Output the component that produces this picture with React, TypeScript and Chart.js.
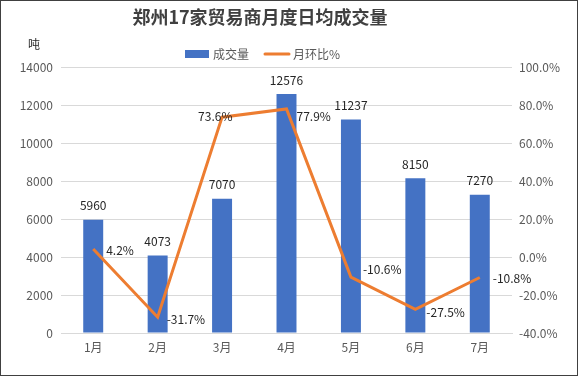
import React, { useEffect, useRef } from "react";
import { Chart, registerables } from "chart.js";

Chart.register(...registerables);

const title = "郑州17家贸易商月度日均成交量";
const unitLabel = "吨";
const categories = ["1月", "2月", "3月", "4月", "5月", "6月", "7月"];
const volumeName = "成交量";
const volumes = [5960, 4073, 7070, 12576, 11237, 8150, 7270];
const momName = "月环比%";
const momPct = [4.2, -31.7, 73.6, 77.9, -10.6, -27.5, -10.8];

// style: per-point label offsets for the line labels (px)
const lineLabelDx = [13, 9, -24, 10, 12, 11, 13];
const lineLabelDy = [1, 2, -1, 7, -8, 3, 1];

const FONT = "'Noto Sans CJK SC', 'Noto Sans', sans-serif";
const BLUE = "#4472C4";
const ORANGE = "#ED7D31";
const AXIS_TEXT = "#595959";

const decorPlugin = {
  id: "decor",
  beforeDraw(chart: any) {
    const ctx = chart.ctx;
    ctx.save();
    ctx.fillStyle = "#ffffff";
    ctx.fillRect(0, 0, chart.width, chart.height);
    ctx.restore();
  },
  afterDraw(chart: any) {
    const ctx = chart.ctx;
    ctx.save();
    // border
    ctx.strokeStyle = "#404040";
    ctx.lineWidth = 1;
    ctx.strokeRect(0.5, 0.5, 577, 375);

    // title
    ctx.fillStyle = "#404040";
    ctx.font = `bold 18px ${FONT}`;
    ctx.textAlign = "center";
    ctx.textBaseline = "middle";
    ctx.fillText(title, 260, 17);

    // unit
    ctx.fillStyle = "#262626";
    ctx.font = `12px ${FONT}`;
    ctx.fillText(unitLabel, 34, 44);

    // legend
    const ly = 54;
    ctx.fillStyle = BLUE;
    ctx.fillRect(185, ly - 4, 24, 8);
    ctx.fillStyle = AXIS_TEXT;
    ctx.textAlign = "left";
    ctx.font = `12px ${FONT}`;
    ctx.fillText(volumeName, 213, ly);
    ctx.strokeStyle = ORANGE;
    ctx.lineWidth = 3;
    ctx.lineCap = "round";
    ctx.beginPath();
    ctx.moveTo(265, ly);
    ctx.lineTo(289, ly);
    ctx.stroke();
    ctx.fillText(momName, 293, ly);

    // bar labels
    ctx.fillStyle = "#262626";
    ctx.font = `12px ${FONT}`;
    ctx.textAlign = "center";
    const barMeta = chart.getDatasetMeta(1);
    barMeta.data.forEach((el: any, i: number) => {
      ctx.fillText(String(volumes[i]), el.x, el.y - 14);
    });

    // line labels
    ctx.textAlign = "left";
    const lineMeta = chart.getDatasetMeta(0);
    lineMeta.data.forEach((el: any, i: number) => {
      ctx.fillText(momPct[i].toFixed(1) + "%", el.x + lineLabelDx[i], el.y + lineLabelDy[i]);
    });
    ctx.restore();
  },
};

export default function App() {
  const ref = useRef<HTMLCanvasElement | null>(null);
  useEffect(() => {
    if (!ref.current) return;
    const chart = new Chart(ref.current, {
      type: "bar",
      data: {
        labels: categories,
        datasets: [
          {
            type: "line",
            label: momName,
            data: momPct,
            yAxisID: "y1",
            borderColor: ORANGE,
            backgroundColor: ORANGE,
            borderWidth: 3,
            pointRadius: 0,
            tension: 0,
            order: 0,
          } as any,
          {
            type: "bar",
            label: volumeName,
            data: volumes,
            yAxisID: "y",
            backgroundColor: BLUE,
            barPercentage: 0.31,
            categoryPercentage: 1,
            order: 1,
          },
        ],
      },
      options: {
        responsive: false,
        animation: false,
        layout: { padding: { top: 67, left: 0, right: 0, bottom: 0 } },
        plugins: {
          legend: { display: false },
          title: { display: false },
          tooltip: { enabled: false },
        },
        scales: {
          x: {
            grid: { display: false, drawTicks: false },
            border: { display: true, color: "#d9d9d9" },
            ticks: { color: AXIS_TEXT, font: { family: FONT, size: 12 }, padding: 7 },
            afterFit(scale: any) {
              scale.height = 44;
            },
          },
          y: {
            position: "left",
            min: 0,
            max: 14000,
            grid: { color: "#d9d9d9", drawTicks: false },
            border: { display: false },
            ticks: {
              stepSize: 2000,
              color: AXIS_TEXT,
              font: { family: FONT, size: 12 },
              padding: 8,
              callback: (v: any) => String(v),
            },
            afterFit(scale: any) {
              scale.width = 61;
            },
          },
          y1: {
            position: "right",
            min: -40,
            max: 100,
            grid: { display: false, drawTicks: false },
            border: { display: false },
            ticks: {
              stepSize: 20,
              color: AXIS_TEXT,
              font: { family: FONT, size: 12 },
              padding: 7,
              callback: (v: any) => Number(v).toFixed(1) + "%",
            },
            afterFit(scale: any) {
              scale.width = 67;
            },
          },
        },
      },
      plugins: [decorPlugin],
    });
    return () => chart.destroy();
  }, []);
  return (
    <div style={{ position: "absolute", left: 0, top: 0, width: 579, height: 377 }}>
      <canvas ref={ref} width={579} height={377} style={{ width: 579, height: 377, display: "block" }} />
    </div>
  );
}
